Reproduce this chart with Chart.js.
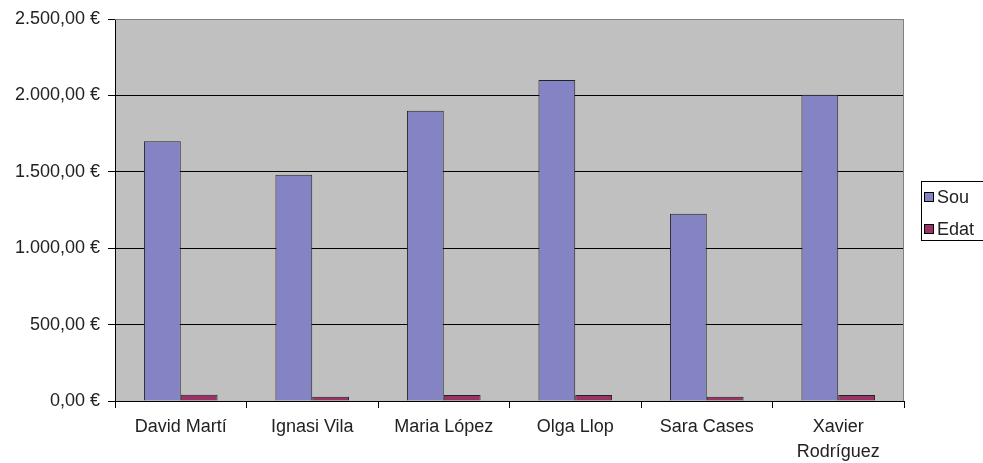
<!DOCTYPE html>
<html>
<head>
<meta charset="utf-8">
<script src="https://cdn.jsdelivr.net/npm/chart.js@4/dist/chart.umd.min.js"></script>
<style>
  html, body { margin: 0; padding: 0; background: #fff; }
  canvas { display: block; }
</style>
</head>
<body>
<canvas id="grafico" width="983" height="463"></canvas>
<script>
// dades llegides del gràfic
const noms = ['David Martí', 'Ignasi Vila', 'Maria López', 'Olga Llop', 'Sara Cases', ['Xavier', 'Rodríguez']];
const sou = [1700, 1480, 1900, 2100, 1225, 2005];
const edat = [41, 28, 39, 40, 28, 40];
const ticksY = [0, 500, 1000, 1500, 2000, 2500];

const colorSou = '#8484C4';
const colorEdat = '#993366';
const fontText = '"Liberation Sans", Arial, sans-serif';

// format 2.500,00 €
function euros(v) {
  const parts = Number(v).toFixed(2).split('.');
  const enter = parts[0].replace(/\B(?=(\d{3})+(?!\d))/g, '.');
  return enter + ',' + parts[1] + ' €';
}

// fons gris de l'àrea del gràfic + vora gris
const fonsArea = {
  id: 'fonsArea',
  beforeDraw(chart) {
    const { ctx, chartArea: a } = chart;
    ctx.save();
    ctx.fillStyle = '#C0C0C0';
    ctx.fillRect(a.left, a.top, a.right - a.left, a.bottom - a.top);
    ctx.restore();
  },
  afterDatasetsDraw(chart) {
    const { ctx, chartArea: a } = chart;
    ctx.save();
    ctx.strokeStyle = '#808080';
    ctx.lineWidth = 1;
    ctx.beginPath();
    ctx.moveTo(a.left, a.top + 0.5);
    ctx.lineTo(a.right - 0.5, a.top + 0.5);
    ctx.lineTo(a.right - 0.5, a.bottom);
    ctx.stroke();
    ctx.restore();
  }
};

// llegenda amb marc a la dreta
const llegenda = {
  id: 'llegenda',
  afterDraw(chart) {
    const ctx = chart.ctx;
    const x = 921, y = 181;
    ctx.save();
    ctx.strokeStyle = '#000';
    ctx.lineWidth = 1;
    ctx.strokeRect(x + 0.5, y + 0.5, 80, 59);
    ctx.font = '18px ' + fontText;
    ctx.textBaseline = 'middle';
    chart.data.datasets.forEach((ds, i) => {
      const cy = 197 + i * 32;
      ctx.fillStyle = ds.backgroundColor;
      ctx.fillRect(924, cy - 5, 10, 10);
      ctx.strokeStyle = '#000';
      ctx.strokeRect(924.5, cy - 4.5, 9, 9);
      ctx.fillStyle = '#222';
      ctx.fillText(ds.label, 937, cy + 1);
    });
    ctx.restore();
  }
};

new Chart(document.getElementById('grafico').getContext('2d'), {
  type: 'bar',
  data: {
    labels: noms,
    datasets: [
      { label: 'Sou', data: sou, backgroundColor: colorSou, borderColor: '#222', borderWidth: 1 },
      { label: 'Edat', data: edat, backgroundColor: colorEdat, borderColor: '#222', borderWidth: 1 }
    ]
  },
  options: {
    responsive: false,
    animation: false,
    layout: { padding: { top: 19, right: 79, left: 0, bottom: 0 } },
    datasets: { bar: { categoryPercentage: 0.56, barPercentage: 1 } },
    plugins: {
      legend: { display: false },
      tooltip: { enabled: false }
    },
    scales: {
      x: {
        afterFit(scale) { scale.height = 62; },
        grid: { offset: true, drawOnChartArea: false, color: '#000', tickLength: 7 },
        border: { color: '#000' },
        ticks: { color: '#222', padding: 7, maxRotation: 0, autoSkip: false,
          font: { family: fontText, size: 18, lineHeight: 1.39 } }
      },
      y: {
        min: 0,
        max: 2500,
        afterFit(scale) { scale.width = 115; },
        afterBuildTicks(scale) { scale.ticks = ticksY.map(v => ({ value: v })); },
        grid: {
          color: ctx => ctx.tick && ctx.tick.value === 2500 ? '#808080' : '#000',
          tickColor: '#000',
          tickLength: 7
        },
        border: { color: '#000' },
        ticks: { color: '#222', padding: 8, callback: v => euros(v),
          font: { family: fontText, size: 18 } }
      }
    }
  },
  plugins: [fonsArea, llegenda]
});
</script>
</body>
</html>
